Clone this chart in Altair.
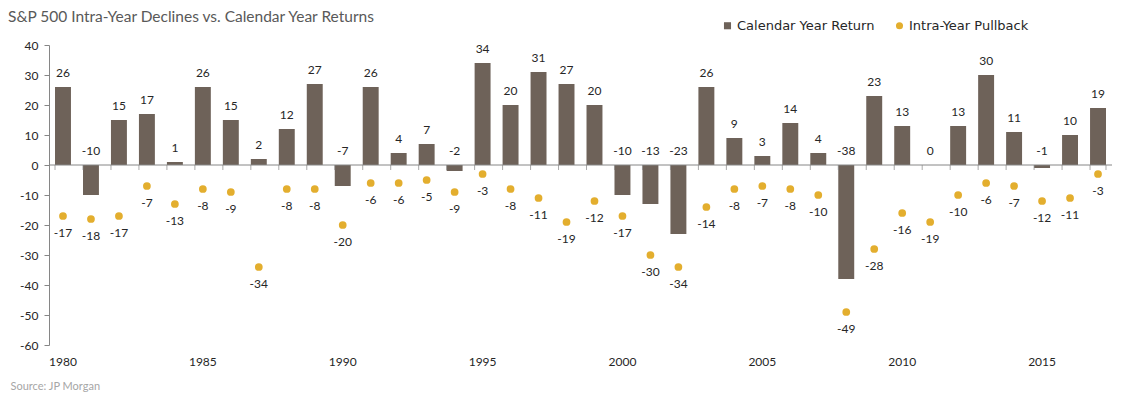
import altair as alt
import pandas as pd

years = list(range(1980, 2018))
calendar_returns = [26, -10, 15, 17, 1, 26, 15, 2, 12, 27,
                    -7, 26, 4, 7, -2, 34, 20, 31, 27, 20,
                    -10, -13, -23, 26, 9, 3, 14, 4, -38, 23,
                    13, 0, 13, 30, 11, -1, 10, 19]
pullbacks = [-17, -18, -17, -7, -13, -8, -9, -34, -8, -8,
             -20, -6, -6, -5, -9, -3, -8, -11, -19, -12,
             -17, -30, -34, -14, -8, -7, -8, -10, -49, -28,
             -16, -19, -10, -6, -7, -12, -11, -3]
series_names = ["Calendar Year Return", "Intra-Year Pullback"]
series_shapes = ["square", "circle"]
y_ticks = list(range(-60, 50, 10))

BAR_COLOR = "#6e6259"
DOT_COLOR = "#e3ae2e"
AXIS_COLOR = "#868686"
TEXT_COLOR = "#262626"
FONT = "Lato"

df_bar = pd.DataFrame({"year": years, "value": calendar_returns, "series": series_names[0]})
df_dot = pd.DataFrame({"year": years, "value": pullbacks, "series": series_names[1]})
df_zero = pd.DataFrame({"zero": [0]})
df_last = pd.DataFrame({"year": [years[-1]]})

x_scale = alt.Scale(paddingInner=0.43, paddingOuter=0.215)
y_scale = alt.Scale(domain=[-60, 40], nice=False)
color_scale = alt.Scale(domain=series_names, range=[BAR_COLOR, DOT_COLOR])
shape_scale = alt.Scale(domain=series_names, range=series_shapes)

x_axis = alt.Axis(
    labelExpr="datum.value % 5 == 0 ? datum.label : ''",
    labelAngle=0, domain=False, ticks=False, labelPadding=11,
    labelOverlap=False, labelFontSize=12, labelColor=TEXT_COLOR,
    title="Source: JP Morgan", titleX=-39, titleY=44, titleAnchor="start",
    titleAlign="left", titleBaseline="alphabetic", titleFontWeight="normal",
    titleFontSize=11, titleColor="#a6a6a6",
)
y_axis = alt.Axis(
    values=y_ticks, grid=False, domainColor=AXIS_COLOR, tickColor=AXIS_COLOR,
    tickSize=5, labelPadding=6, title=None, labelFontSize=12, labelColor=TEXT_COLOR,
    labelExpr="'' + datum.value", labelOverlap=False,
)

legend = alt.Legend(
    orient="none", legendX=672, legendY=-26, direction="horizontal", title=None,
    labelFont="DejaVu Sans", labelFontSize=13, labelColor=TEXT_COLOR, symbolSize=50,
    columnPadding=18, labelOffset=3,
)

bars = alt.Chart(df_bar).mark_bar().encode(
    x=alt.X("year:O", scale=x_scale, axis=x_axis),
    y=alt.Y("value:Q", scale=y_scale, axis=y_axis),
    color=alt.Color("series:N", scale=color_scale, legend=legend),
)

zero_line = alt.Chart(df_zero).mark_rule(color=AXIS_COLOR, strokeWidth=1).encode(
    y=alt.Y("zero:Q", scale=y_scale, axis=y_axis)
)

zero_ticks = alt.Chart(df_bar).mark_tick(
    orient="vertical", size=5, thickness=1, yOffset=2.5, color=AXIS_COLOR
).encode(
    x=alt.X("year:O", bandPosition=0, axis=x_axis),
    y=alt.Y(datum=0, axis=y_axis),
)
end_tick = alt.Chart(df_last).mark_tick(
    orient="vertical", size=5, thickness=1, yOffset=2.5, color=AXIS_COLOR
).encode(
    x=alt.X("year:O", bandPosition=1, axis=x_axis),
    y=alt.Y(datum=0, axis=y_axis),
)

dots = alt.Chart(df_dot).mark_point(filled=True, size=60, opacity=1).encode(
    x=alt.X("year:O", axis=x_axis), y=alt.Y("value:Q", axis=y_axis),
    color=alt.Color("series:N", scale=color_scale, legend=legend),
    shape=alt.Shape("series:N", scale=shape_scale, legend=legend),
)

bar_labels = alt.Chart(df_bar).transform_calculate(
    label_y="max(datum.value, 0)"
).mark_text(baseline="bottom", dy=-7, fontSize=12, color=TEXT_COLOR).encode(
    x=alt.X("year:O", axis=x_axis), y=alt.Y("label_y:Q", axis=y_axis), text=alt.Text("value:N")
)

dot_labels = alt.Chart(df_dot).mark_text(baseline="top", dy=12, fontSize=12, color=TEXT_COLOR).encode(
    x=alt.X("year:O", axis=x_axis), y=alt.Y("value:Q", axis=y_axis), text=alt.Text("value:N")
)

chart = alt.layer(
    bars, zero_line, zero_ticks, end_tick, dots, bar_labels, dot_labels
).properties(
    width=1063, height=300,
    autosize=alt.AutoSizeParams(type="none"),
    padding={"left": 41, "top": 37, "right": 12, "bottom": 48},
    title=alt.Title(
        "S&P 500 Intra-Year Declines vs. Calendar Year Returns",
        anchor="start", frame="group", dx=-41, fontSize=15.5, fontWeight="normal",
        color="#595959", font=FONT, offset=-6,
    ),
).configure(
    font=FONT,
).configure_view(stroke=None)

chart.save("out.html", embed_options={"renderer": "svg", "actions": False})
